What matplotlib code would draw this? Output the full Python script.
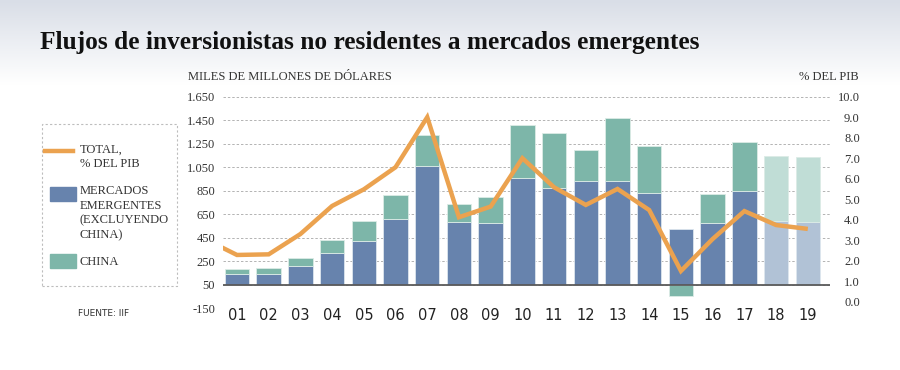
import matplotlib.pyplot as plt
import matplotlib.patches as mpatches
from matplotlib.lines import Line2D
from matplotlib.colors import LinearSegmentedColormap
import numpy as np

# datos (miles de millones de dolares)
years = ['01', '02', '03', '04', '05', '06', '07', '08', '09', '10',
         '11', '12', '13', '14', '15', '16', '17', '18', '19']
em_ex_china = [96, 93, 158, 273, 372, 558, 1011, 530, 524, 907,
               825, 885, 879, 783, 473, 524, 794, 541, 532]
china = [39, 48, 73, 107, 172, 205, 265, 160, 220, 451,
         468, 259, 544, 400, -99, 248, 417, 555, 555]
forecast = ['18', '19']

# total, % del PIB (empieza en 2000, cortado en el borde)
pct_years = ['00'] + years
total_pct = [3.05, 2.28, 2.31, 3.30, 4.67, 5.48, 6.56, 9.0, 4.12, 4.64,
             7.0, 5.58, 4.72, 5.50, 4.47, 1.50, 3.06, 4.42, 3.74, 3.55]

left_ticks = list(range(-150, 1651, 200))
right_ticks = list(range(0, 11))
BASE = 50

BLUE, TEAL = '#6783ad', '#7db6a9'
BLUE_F, TEAL_F = '#b1c2d6', '#c0ddd6'
ORANGE = '#eba24f'
TXT = '#333333'
SERIF = ['Liberation Serif', 'DejaVu Serif']

W, H = 900, 370
fig = plt.figure(figsize=(9, 3.7), dpi=100)

def fx(x):
    return x / W

def fy(y):
    return 1 - y / H

# fondo degradado arriba
bg = fig.add_axes([0, fy(85), 1, 85 / H], zorder=-10)
cmap = LinearSegmentedColormap.from_list('bg', ['#d9dee7', '#ffffff'])
bg.imshow(np.linspace(0, 1, 100).reshape(-1, 1), aspect='auto', cmap=cmap)
bg.axis('off')

fig.text(fx(40), fy(49.5), 'Flujos de inversionistas no residentes a mercados emergentes',
         fontsize=18.25, fontweight='bold', family=SERIF, color='#111111', va='baseline')

ax = fig.add_axes([fx(222.7), fy(308.3), fx(830 - 222.7), (308.3 - 96.7) / H])
x = np.arange(len(years))
em_col = [BLUE_F if y in forecast else BLUE for y in years]
ch_col = [TEAL_F if y in forecast else TEAL for y in years]
ch_bottom = [BASE + e if c >= 0 else BASE for e, c in zip(em_ex_china, china)]

ax.bar(x, em_ex_china, bottom=BASE, width=0.77, color=em_col,
       edgecolor='#dde6ee', linewidth=0.6, zorder=2)
ax.bar(x, china, bottom=ch_bottom, width=0.77, color=ch_col,
       edgecolor='#dcebe6', linewidth=0.6, zorder=2)
ax.axhline(BASE, color='#5a5a5a', lw=1.3, zorder=3)

ax.set_xlim(-0.45, 18.7)
ax.set_ylim(-150, 1650)
ax.set_yticks(left_ticks)
ax.set_yticklabels([f'{v:,}'.replace(',', '.') for v in left_ticks])
ax.set_xticks(x)
ax.set_xticklabels(years)
ax.set_axisbelow(True)
ax.yaxis.grid(True, ls=(0, (2.5, 2)), color='#b3b3b3', lw=0.7)
for s in ax.spines.values():
    s.set_visible(False)
ax.tick_params(axis='y', length=0, pad=5.5, labelsize=9, labelcolor=TXT)
ax.tick_params(axis='x', length=0, pad=0, labelsize=10.5, labelcolor='#222222')
for lab in ax.get_yticklabels():
    lab.set_family(SERIF)

ax2 = ax.twinx()
ax2.set_ylim(-0.322, 10)
ax2.plot(np.arange(-1, len(years)), total_pct, color=ORANGE, lw=3.2,
         solid_joinstyle='miter', solid_capstyle='butt', zorder=4)
ax2.set_yticks(right_ticks)
ax2.set_yticklabels([f'{v:.1f}' for v in right_ticks])
for s in ax2.spines.values():
    s.set_visible(False)
ax2.tick_params(axis='y', length=0, pad=21.5, labelsize=9, labelcolor=TXT)
for lab in ax2.get_yticklabels():
    lab.set_ha('right')
    lab.set_family(SERIF)

fig.text(fx(188), fy(77), 'MILES DE MILLONES DE DÓLARES', fontsize=9,
         family=SERIF, color=TXT, va='center')
fig.text(fx(859), fy(77), '% DEL PIB', fontsize=9, family=SERIF,
         color=TXT, va='center', ha='right')

# leyenda
fig.patches.append(mpatches.Rectangle((fx(41.7), fy(286)), fx(177 - 41.7), (286 - 124) / H,
                                      transform=fig.transFigure, fill=False,
                                      edgecolor='#bdbdbd', lw=0.8, ls=(0, (2, 2))))
fig.lines.append(Line2D([fx(45), fx(73.3)], [fy(150.7), fy(150.7)],
                        transform=fig.transFigure, color=ORANGE, lw=3.2))
fig.patches.append(mpatches.Rectangle((fx(50), fy(200.7)), fx(25.7), 13.4 / H,
                                      transform=fig.transFigure, color=BLUE))
fig.patches.append(mpatches.Rectangle((fx(50), fy(268)), fx(25.7), 14 / H,
                                      transform=fig.transFigure, color=TEAL))
fig.text(fx(80), fy(143.5), 'TOTAL,\n% DEL PIB', fontsize=9, family=SERIF,
         color=TXT, va='top', linespacing=1.3)
fig.text(fx(80), fy(185), 'MERCADOS\nEMERGENTES\n(EXCLUYENDO\nCHINA)', fontsize=9,
         family=SERIF, color=TXT, va='top', linespacing=1.3)
fig.text(fx(80), fy(261.7), 'CHINA', fontsize=9, family=SERIF, color=TXT, va='center')
fig.text(fx(78), fy(314), 'FUENTE: IIF', fontsize=6.5, color=TXT, va='center')

fig.savefig('out.png', dpi=100)
